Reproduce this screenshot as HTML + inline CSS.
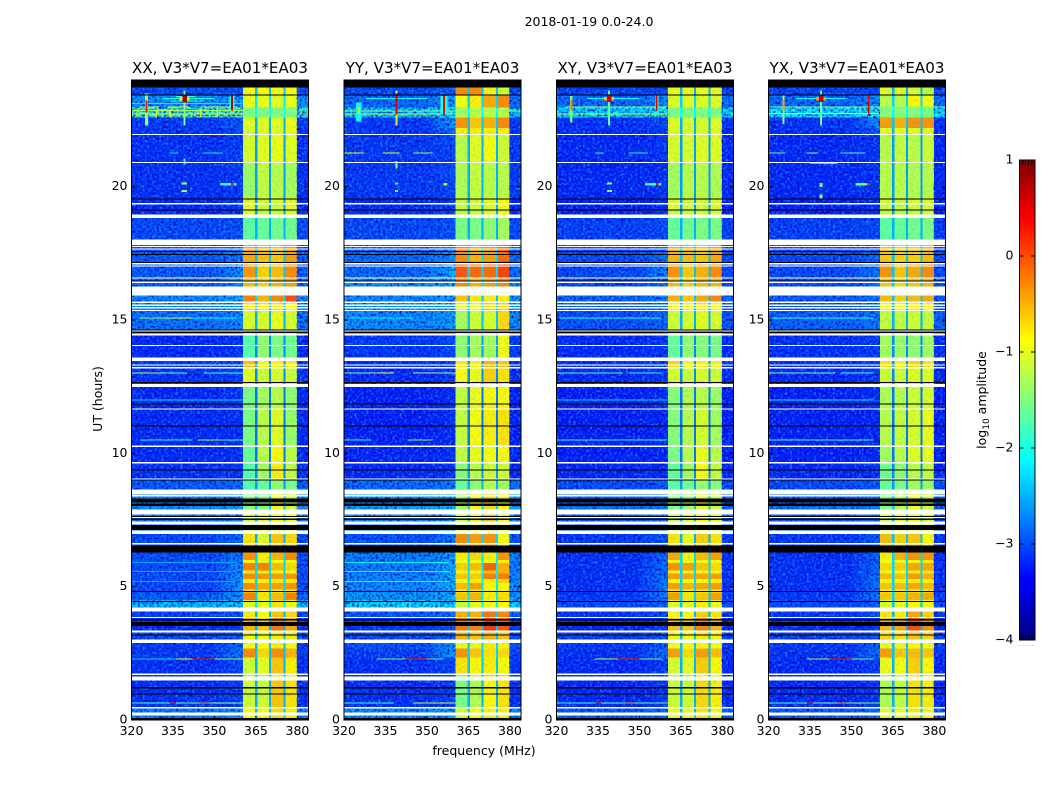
<!DOCTYPE html>
<html lang="en">
<head>
<meta charset="utf-8">
<title>2018-01-19 0.0-24.0</title>
<style>
html,body{margin:0;padding:0;background:#fff;width:1050px;height:800px;overflow:hidden}
svg{display:block}
text{font-family:"DejaVu Sans","Liberation Sans",sans-serif;fill:#000}
</style>
</head>
<body>
<svg id="chart" width="1050" height="800" viewBox="0 0 1050 800" xmlns="http://www.w3.org/2000/svg">
  <defs>
    <filter id="speckle-light" x="0" y="0" width="1" height="1" color-interpolation-filters="sRGB">
      <feTurbulence type="fractalNoise" baseFrequency="0.42" numOctaves="1" seed="4"/>
      <feColorMatrix values="0 0 0 0 0.1  0 0 0 0 0.55  0 0 0 0 1  2.6 0 0 0 -1.15"/>
    </filter>
    <filter id="speckle-dark" x="0" y="0" width="1" height="1" color-interpolation-filters="sRGB">
      <feTurbulence type="fractalNoise" baseFrequency="0.42" numOctaves="1" seed="11"/>
      <feColorMatrix values="0 0 0 0 0  0 0 0 0 0  0 0 0 0 0.75  2.6 0 0 0 -1.15"/>
    </filter>
    <linearGradient id="near-fade-ramp" x1="0" y1="0" x2="1" y2="0">
      <stop offset="0" stop-color="#000"/>
      <stop offset="1" stop-color="#fff"/>
    </linearGradient>
  </defs>
  <rect width="1050" height="800" fill="#fff"/>
  <text x="589" y="26" font-size="12.5" text-anchor="middle">2018-01-19 0.0-24.0</text>
  <text x="484" y="755" font-size="12.5" text-anchor="middle">frequency (MHz)</text>
  <text x="0" y="0" font-size="12.5" text-anchor="middle" transform="translate(102 399) rotate(-90)">UT (hours)</text>
  <text x="0" y="0" font-size="12.5" text-anchor="middle" transform="translate(986 400) rotate(-90)">log<tspan font-size="9" dy="3">10</tspan><tspan dy="-3"> amplitude</tspan></text>
  <g id="panels"></g>
  <g id="colorbar"></g>
</svg>
<script>
// ---------- data ----------
const panelTitles = ["XX, V3*V7=EA01*EA03", "YY, V3*V7=EA01*EA03", "XY, V3*V7=EA01*EA03", "YX, V3*V7=EA01*EA03"];
const xTicks = [320, 335, 350, 365, 380];
const yTicks = [0, 5, 10, 15, 20];
const colorTicks = [1, 0, -1, -2, -3, -4];
const colorTickLabels = ["1", "0", "\u22121", "\u22122", "\u22123", "\u22124"];

// frequency channel edges (MHz) and which value column each channel uses
const channelEdges = [320, 349, 360.3, 364.65, 365.5, 369.7, 370.5, 374.9, 375.6, 379.8, 384];
const channelColumn = [0, 1, 2, 6, 3, 6, 4, 6, 5, 0];

// UT block edges (hours)
const timeEdges = [23.71,23.43,22.96,22.60,22.20,21.95,20.90,19.60,18.95,18.00,17.20,16.57,15.92,15.66,15.35,14.55,13.55,13.20,12.55,11.66,10.26,9.64,9.00,8.45,7.89,7.00,6.60,6.29,6.00,5.88,5.60,5.50,5.28,5.13,4.90,4.78,4.50,4.22,3.84,3.28,2.89,2.69,2.34,1.75,1.48,0.46,0.07,0];

// log10 amplitude per block: [background, near-band, band1, band2, band3, band4, gap]
const cellsXX = [[-3.0,-3.0,-0.9,-0.9,-0.9,-0.9,-2.4],[-2.6,-2.5,-0.95,-0.95,-1.0,-0.95,-2.2],[-1.8,-1.7,-1.5,-1.5,-1.5,-1.5,-1.9],[-3.1,-2.9,-1.0,-1.0,-1.0,-0.95,-2.5],[-3.12,-2.95,-1.05,-1.0,-1.0,-0.95,-2.5],[-3.15,-3.05,-1.05,-1.0,-0.95,-1.0,-2.6],[-3.15,-3.1,-1.35,-1.15,-1.2,-1.3,-2.6],[-3.2,-3.1,-1.0,-1.1,-1.1,-1.0,-2.6],[-3.0,-2.95,-1.65,-1.6,-1.55,-1.55,-2.5],[-2.9,-2.7,-0.45,-0.55,-0.6,-0.4,-2.4],[-2.9,-2.6,-0.35,-0.65,-0.55,-0.3,-2.4],[-2.9,-2.6,-0.55,-0.65,-0.5,-0.4,-2.4],[-2.6,-2.4,-0.25,-0.5,-0.3,0.0,-2.3],[-2.6,-2.5,-0.8,-0.8,-0.75,-0.9,-2.4],[-2.75,-2.6,-1.05,-1.05,-0.95,-1.05,-2.5],[-3.2,-3.1,-1.7,-1.4,-1.5,-1.55,-2.7],[-3.1,-3.0,-0.55,-0.9,-0.85,-0.85,-2.6],[-3.15,-3.05,-1.0,-1.1,-1.05,-1.1,-2.7],[-3.2,-3.1,-1.5,-1.3,-1.2,-1.4,-2.8],[-3.2,-3.15,-1.5,-1.2,-1.0,-1.35,-2.8],[-3.2,-3.15,-1.6,-1.2,-0.85,-1.2,-2.8],[-3.15,-3.1,-1.7,-1.3,-0.8,-1.15,-2.7],[-2.9,-2.8,-1.7,-1.6,-1.4,-1.5,-2.6],[-2.6,-2.5,-1.4,-1.4,-0.9,-1.1,-2.4],[-2.7,-2.6,-1.1,-1.0,-0.85,-1.0,-2.4],[-3.0,-2.8,-0.75,-1.0,-0.6,-0.7,-2.5],[-3.02,-2.8,-0.7,-1.0,-0.65,-0.7,-2.5],[-3.0,-2.7,-0.35,-0.8,-0.5,-0.3,-2.3],[-3.0,-2.6,-0.85,-0.95,-0.9,-0.9,-2.3],[-3.0,-2.6,-0.25,-0.25,-0.55,-0.7,-2.3],[-3.0,-2.6,-0.9,-0.9,-0.9,-0.9,-2.3],[-3.0,-2.55,-0.3,-0.35,-0.4,-0.35,-2.3],[-3.0,-2.55,-0.8,-0.85,-0.8,-0.8,-2.3],[-3.0,-2.5,-0.3,-0.45,-0.4,-0.35,-2.3],[-3.0,-2.5,-0.8,-0.85,-0.85,-0.8,-2.3],[-2.9,-2.5,-0.25,-0.75,-0.55,-0.25,-2.3],[-2.35,-2.3,-1.0,-0.95,-0.75,-0.95,-2.2],[-3.05,-2.9,-0.8,-0.9,-0.6,-0.7,-2.5],[-3.2,-3.1,-0.5,-0.6,-0.2,-0.45,-2.5],[-3.0,-2.9,-0.85,-0.9,-0.8,-0.8,-2.4],[-3.1,-2.8,-0.9,-0.9,-0.8,-0.9,-2.4],[-3.1,-2.7,-0.3,-0.7,-0.3,-0.5,-2.4],[-3.15,-3.0,-1.1,-1.0,-0.6,-0.8,-2.5],[-3.1,-3.0,-1.2,-1.2,-0.8,-0.9,-2.5],[-3.15,-3.05,-1.1,-1.1,-0.6,-0.75,-2.5],[-2.7,-2.6,-0.9,-0.9,-0.7,-0.8,-2.4],[-2.5,-2.5,-0.7,-0.7,-0.6,-0.7,-2.4]];
const cellsYY = [[-3.0,-2.9,-0.3,-0.3,-0.8,-1.1,-2.4],[-2.8,-2.5,-0.9,-0.8,-0.45,-0.3,-2.3],[-2.3,-2.1,-1.3,-1.2,-1.2,-1.2,-2.1],[-3.1,-2.5,-0.35,-0.6,-0.5,-0.3,-2.4],[-3.1,-2.8,-0.8,-0.8,-0.8,-0.8,-2.4],[-3.1,-3.0,-1.2,-1.0,-0.9,-1.1,-2.5],[-3.1,-3.0,-1.25,-1.15,-1.2,-1.2,-2.5],[-3.2,-3.05,-1.15,-1.1,-1.0,-0.9,-2.5],[-3.0,-2.95,-1.5,-1.5,-1.4,-1.3,-2.5],[-2.8,-2.6,-0.3,-0.5,-0.4,-0.15,-2.3],[-2.8,-2.4,-0.05,-0.15,-0.15,0.05,-2.3],[-2.6,-2.4,-0.3,-0.5,-0.4,-0.3,-2.3],[-2.6,-2.5,-0.6,-0.8,-0.8,-0.85,-2.4],[-2.5,-2.4,-1.0,-1.0,-0.7,-0.65,-2.3],[-2.6,-2.5,-1.3,-1.1,-1.05,-0.7,-2.4],[-3.1,-3.0,-1.4,-1.3,-1.3,-0.95,-2.6],[-3.15,-3.05,-0.8,-0.85,-0.55,-0.6,-2.6],[-3.2,-3.1,-0.9,-0.95,-0.65,-0.75,-2.7],[-3.25,-3.15,-1.15,-0.95,-0.85,-0.85,-2.8],[-3.25,-3.15,-1.15,-0.9,-0.8,-0.75,-2.8],[-3.22,-3.15,-1.15,-0.95,-0.9,-0.85,-2.8],[-3.2,-3.1,-1.45,-1.2,-1.1,-1.1,-2.6],[-2.8,-2.7,-1.6,-1.4,-1.2,-1.3,-2.5],[-2.5,-2.4,-1.3,-0.9,-0.7,-0.9,-2.3],[-2.6,-2.5,-1.1,-0.8,-0.6,-0.9,-2.3],[-2.95,-2.7,-0.3,-0.4,-0.35,-0.9,-2.3],[-2.97,-2.7,-0.3,-0.4,-0.35,-0.88,-2.3],[-2.7,-2.5,-0.8,-0.7,-0.8,-0.35,-2.2],[-2.7,-2.5,-0.9,-0.9,-0.9,-0.8,-2.2],[-2.7,-2.4,-0.65,-0.55,-0.1,-0.5,-2.2],[-2.7,-2.4,-0.9,-0.9,-0.6,-0.5,-2.2],[-2.65,-2.4,-0.6,-0.65,-0.25,-0.25,-2.2],[-2.65,-2.4,-0.85,-0.8,-0.8,-0.7,-2.2],[-2.6,-2.4,-0.55,-0.4,-0.85,-0.85,-2.2],[-2.6,-2.4,-0.85,-0.85,-0.85,-0.85,-2.2],[-2.55,-2.4,-0.6,-0.5,-0.8,-0.7,-2.2],[-2.2,-2.2,-1.1,-0.95,-0.9,-0.85,-2.1],[-2.9,-2.8,-0.5,-0.5,-0.2,-0.3,-2.4],[-3.1,-3.0,-0.2,-0.25,0.1,-0.05,-2.4],[-3.0,-2.9,-0.5,-0.6,-0.5,-0.6,-2.4],[-2.95,-2.5,-0.95,-0.95,-0.8,-0.85,-2.3],[-3.05,-2.5,-0.35,-0.6,-0.75,-0.7,-2.3],[-3.15,-3.0,-0.75,-0.85,-0.8,-0.9,-2.4],[-3.1,-3.0,-1.5,-1.2,-0.7,-0.7,-2.5],[-3.15,-3.05,-1.5,-1.25,-0.85,-0.75,-2.5],[-2.6,-2.5,-1.1,-0.9,-0.8,-0.8,-2.3],[-2.6,-2.5,-0.7,-0.6,-0.5,-0.6,-2.3]];
const cellsXY = [[-3.05,-3.0,-0.95,-0.95,-0.95,-1.0,-2.5],[-2.8,-2.6,-1.0,-1.0,-1.0,-1.0,-2.3],[-2.2,-2.0,-1.5,-1.5,-1.5,-1.5,-2.0],[-3.15,-3.0,-1.0,-1.05,-1.05,-1.0,-2.5],[-3.17,-3.02,-1.02,-1.05,-1.05,-1.0,-2.5],[-3.2,-3.1,-1.05,-1.05,-1.0,-1.0,-2.6],[-3.2,-3.15,-1.3,-1.2,-1.2,-1.25,-2.6],[-3.25,-3.15,-1.05,-1.1,-1.1,-1.05,-2.6],[-3.05,-3.0,-1.6,-1.55,-1.5,-1.5,-2.5],[-3.0,-2.75,-0.5,-0.55,-0.6,-0.45,-2.4],[-3.0,-2.65,-0.35,-0.6,-0.5,-0.3,-2.4],[-3.0,-2.7,-0.55,-0.65,-0.55,-0.5,-2.4],[-2.85,-2.6,-0.5,-0.6,-0.45,-0.3,-2.4],[-2.9,-2.7,-0.85,-0.85,-0.8,-0.9,-2.5],[-2.95,-2.8,-1.1,-1.05,-1.0,-1.05,-2.5],[-3.2,-3.1,-1.6,-1.4,-1.45,-1.5,-2.7],[-3.15,-3.05,-0.7,-0.9,-0.85,-0.85,-2.6],[-3.2,-3.1,-1.05,-1.1,-1.05,-1.1,-2.7],[-3.25,-3.15,-1.45,-1.25,-1.2,-1.35,-2.8],[-3.25,-3.2,-1.45,-1.2,-1.05,-1.3,-2.8],[-3.25,-3.2,-1.5,-1.2,-0.95,-1.2,-2.8],[-3.2,-3.15,-1.6,-1.3,-0.9,-1.15,-2.7],[-3.0,-2.9,-1.65,-1.55,-1.35,-1.45,-2.6],[-2.8,-2.7,-1.4,-1.3,-0.95,-1.1,-2.4],[-2.85,-2.75,-1.1,-1.0,-0.85,-1.0,-2.4],[-3.1,-2.9,-0.75,-0.95,-0.65,-0.75,-2.5],[-3.12,-2.9,-0.7,-0.95,-0.65,-0.75,-2.5],[-3.15,-2.8,-0.45,-0.8,-0.55,-0.4,-2.3],[-3.15,-2.8,-0.85,-0.95,-0.9,-0.9,-2.3],[-3.15,-2.75,-0.35,-0.4,-0.6,-0.7,-2.3],[-3.15,-2.75,-0.9,-0.9,-0.9,-0.9,-2.3],[-3.15,-2.7,-0.4,-0.45,-0.45,-0.4,-2.3],[-3.15,-2.7,-0.85,-0.85,-0.85,-0.8,-2.3],[-3.15,-2.65,-0.4,-0.5,-0.45,-0.4,-2.3],[-3.15,-2.65,-0.85,-0.85,-0.85,-0.85,-2.3],[-3.1,-2.65,-0.4,-0.75,-0.6,-0.4,-2.3],[-3.0,-2.8,-1.0,-0.95,-0.8,-0.95,-2.4],[-3.1,-2.95,-0.85,-0.9,-0.65,-0.75,-2.5],[-3.2,-3.1,-0.55,-0.6,-0.25,-0.5,-2.5],[-3.05,-2.95,-0.85,-0.9,-0.8,-0.85,-2.4],[-3.1,-2.85,-0.9,-0.9,-0.85,-0.9,-2.4],[-3.15,-2.75,-0.4,-0.7,-0.4,-0.55,-2.4],[-3.2,-3.05,-1.05,-1.0,-0.65,-0.85,-2.5],[-3.15,-3.05,-1.2,-1.2,-0.85,-0.95,-2.5],[-3.2,-3.1,-1.1,-1.1,-0.7,-0.8,-2.5],[-2.9,-2.8,-0.95,-0.95,-0.75,-0.85,-2.4],[-2.8,-2.7,-0.7,-0.7,-0.6,-0.7,-2.4]];
const cellsYX = [[-3.05,-3.0,-1.0,-1.0,-1.05,-1.2,-2.5],[-2.8,-2.6,-1.2,-1.2,-0.85,-0.9,-2.3],[-2.1,-1.9,-1.45,-1.45,-1.45,-1.5,-2.0],[-3.15,-2.6,-0.4,-0.5,-0.35,-0.35,-2.4],[-3.15,-2.9,-1.0,-1.0,-1.0,-1.0,-2.5],[-3.2,-3.1,-1.2,-1.15,-1.2,-1.1,-2.6],[-3.2,-3.15,-1.2,-1.2,-1.25,-1.2,-2.6],[-3.25,-3.15,-1.1,-1.15,-1.1,-1.05,-2.6],[-3.05,-3.0,-1.65,-1.6,-1.55,-1.5,-2.5],[-3.0,-2.8,-0.6,-0.65,-0.65,-0.55,-2.4],[-3.0,-2.7,-0.35,-0.6,-0.45,-0.3,-2.4],[-3.0,-2.75,-0.6,-0.7,-0.6,-0.5,-2.4],[-2.9,-2.7,-0.55,-0.65,-0.55,-0.45,-2.4],[-2.95,-2.8,-0.95,-0.95,-0.8,-0.85,-2.5],[-2.85,-2.7,-1.15,-1.15,-1.1,-1.15,-2.5],[-3.15,-3.05,-1.3,-1.35,-1.4,-1.3,-2.7],[-3.15,-3.05,-0.75,-0.85,-0.7,-0.8,-2.6],[-3.2,-3.1,-1.1,-1.1,-1.0,-1.0,-2.7],[-3.25,-3.15,-1.25,-1.2,-1.1,-1.05,-2.8],[-3.25,-3.2,-1.2,-1.15,-1.05,-0.95,-2.8],[-3.25,-3.2,-1.3,-1.2,-1.0,-0.95,-2.8],[-3.2,-3.15,-1.55,-1.4,-1.2,-1.15,-2.7],[-3.0,-2.9,-1.6,-1.5,-1.3,-1.35,-2.6],[-2.8,-2.7,-1.4,-1.2,-0.9,-1.1,-2.4],[-2.9,-2.75,-1.1,-0.95,-0.85,-1.0,-2.4],[-3.1,-2.9,-0.55,-0.65,-0.6,-0.85,-2.4],[-3.12,-2.9,-0.55,-0.65,-0.6,-0.83,-2.4],[-3.15,-2.85,-0.8,-0.5,-0.35,-0.35,-2.3],[-3.15,-2.85,-0.9,-0.9,-0.85,-0.8,-2.3],[-3.15,-2.8,-0.7,-0.65,-0.45,-0.45,-2.3],[-3.15,-2.8,-0.9,-0.9,-0.8,-0.8,-2.3],[-3.15,-2.75,-0.55,-0.6,-0.4,-0.5,-2.3],[-3.15,-2.75,-0.85,-0.85,-0.8,-0.8,-2.3],[-3.15,-2.7,-0.6,-0.55,-0.45,-0.55,-2.3],[-3.15,-2.7,-0.85,-0.85,-0.85,-0.85,-2.3],[-3.1,-2.7,-0.6,-0.6,-0.5,-0.45,-2.3],[-3.0,-2.85,-1.0,-0.95,-0.85,-0.9,-2.4],[-3.1,-2.95,-0.75,-0.8,-0.45,-0.7,-2.5],[-3.2,-3.1,-0.55,-0.45,0.0,-0.3,-2.5],[-3.05,-2.95,-0.7,-0.75,-0.6,-0.7,-2.4],[-3.1,-2.85,-0.95,-0.95,-0.85,-0.9,-2.4],[-3.15,-2.75,-0.4,-0.6,-0.55,-0.6,-2.4],[-3.2,-3.05,-0.95,-0.9,-0.65,-0.85,-2.5],[-3.15,-3.05,-1.3,-1.15,-0.85,-0.9,-2.5],[-3.2,-3.1,-1.25,-1.15,-0.75,-0.8,-2.5],[-2.9,-2.8,-1.0,-0.95,-0.8,-0.85,-2.4],[-2.8,-2.7,-0.7,-0.65,-0.6,-0.65,-2.4]];
const panelCells = [cellsXX, cellsYY, cellsXY, cellsYX];

// interference lines: [hour, startMHz, endMHz, level]
const linesXX = [[23.38,336,343,-1.9],[23.3,331,350,-2.0],[23.22,334,346,-2.1],[23.12,320,360,-2.2],[22.98,323,330,-1.2],[22.98,333,341,-1.0],[22.98,345,358,-1.3],[22.86,320,360.3,-1.35],[22.72,320,360.3,-1.15],[21.26,334,337,-2.2],[21.26,346,353,-2.2],[15.07,323,333,-1.4],[15.07,333,342,-1.1],[15.07,342,358,-2.1],[13.01,320,330,-1.3],[13.01,330,340,-1.6],[13.01,346,360.3,-1.8],[12.0,320,360.3,-2.3],[10.5,323,342,-2.0],[10.5,344,352,-1.4],[10.5,352,360.3,-1.8],[5.9,320,358,-2.55],[5.57,320,358,-2.55],[5.19,320,358,-2.55],[2.29,336,342,-1.0],[2.29,342,350,0.3],[2.29,350,360.3,-1.4],[2.29,320,336,-2.3],[0.64,320,334,-1.7],[0.64,334,336,0.2],[0.64,336,345,-1.6],[0.64,345,348,-0.3],[0.64,348,360.3,-1.5]];
const linesYY = [[23.3,328,350,-2.1],[22.84,320,384,-1.5],[22.72,320,360,-1.2],[21.27,320,327,-1.0],[21.27,334,340,-1.0],[21.27,345,352,-1.4],[15.07,322,345,-2.2],[13.01,320,332,-1.5],[13.01,332,338,-0.9],[13.01,345,360.3,-1.3],[10.5,320,330,-2.0],[10.5,343,352,-1.5],[5.9,320,358,-2.15],[5.57,320,358,-2.15],[5.19,320,358,-2.15],[4.44,320,358,-1.8],[2.29,332,342,-1.6],[2.29,342,350,0.2],[2.29,350,356,-1.8],[0.64,320,338,-1.8],[0.64,345,360.3,-1.2]];
const linesXY = [[23.3,331,350,-2.1],[22.98,323,360,-1.4],[22.72,320,360,-1.3],[21.26,334,337,-1.9],[21.26,346,353,-2.0],[15.07,321,358,-1.9],[13.01,320,344,-1.7],[13.01,346,358,-1.9],[12.0,320,360,-2.3],[10.5,320,360,-1.9],[2.29,334,342,-1.2],[2.29,342,350,0.25],[2.29,350,358,-1.6],[0.64,320,334,-1.8],[0.64,334,336,0.2],[0.64,336,345,-1.7],[0.64,345,348,-0.3],[0.64,348,360.3,-1.6]];
const linesYX = [[23.3,330,348,-2.1],[22.98,320,384,-1.5],[22.75,320,360,-1.1],[21.27,320,326,-1.6],[21.27,334,338,-1.5],[21.27,346,355,-1.8],[20.86,335,345,-0.4],[15.07,321,358,-1.9],[13.01,320,344,-1.5],[13.01,346,358,-1.7],[12.0,320,358,-2.2],[10.5,320,358,-1.8],[8.55,320,345,-1.5],[2.29,334,342,-1.3],[2.29,342,350,0.25],[2.29,350,358,-1.7],[0.64,320,334,-1.7],[0.64,334,336,0.25],[0.64,336,345,-1.6],[0.64,345,348,-0.2],[0.64,348,360.3,-1.5]];
const panelLines = [linesXX, linesYY, linesXY, linesYX];

// interference spots: [centreMHz, centreHour, widthMHz, heightHours, level]
const spotsXX = [[339.2,22.95,0.8,1.3,-1.5],[339.2,23.3,3.6,0.12,-0.8],[339.2,23.3,1.6,0.28,0.8],[325.4,22.9,1.0,1.2,-1.4],[325.4,23.0,0.7,0.45,0.3],[356.3,23.15,1.8,0.55,-2.0],[356.3,23.15,0.7,0.6,0.7],[322,22.75,0.5,0.3,-1.1],[329,22.75,0.5,0.3,-1.1],[334,22.75,0.5,0.3,-1.0],[345,22.75,0.5,0.3,-1.0],[351,22.75,0.5,0.3,-1.1],[339.1,20.95,0.7,0.22,-1.9],[339.1,20.12,2,0.08,-1.4],[339.1,19.84,2,0.08,-1.4],[355,20.09,6,0.08,-1.9],[356.4,20.09,0.8,0.08,0.4]];
const spotsYY = [[339,22.95,0.7,1.3,-1.2],[339,23.1,0.6,0.8,0.5],[325.4,22.8,2.0,0.7,-2.1],[325.4,22.85,0.7,0.2,-0.8],[356.2,23.05,2.6,0.7,-2.0],[356.2,23.05,0.7,0.7,0.4],[339,20.82,0.6,0.28,-1.4],[339,20.12,1,0.08,-1.7],[339,19.84,1,0.08,-1.7],[356.6,20.09,1.4,0.08,-1.2]];
const spotsXY = [[339,22.95,0.8,1.3,-1.7],[339,23.3,3.6,0.12,-0.6],[339,23.3,1.6,0.26,0.6],[325.4,22.9,0.9,1.0,-1.6],[325.4,23.05,0.6,0.4,-0.2],[356.3,23.15,1.0,0.6,-1.7],[356.3,23.15,0.6,0.6,0.5],[339.1,20.12,1.8,0.08,-1.5],[339.1,19.84,1.8,0.08,-1.5],[355,20.09,6,0.08,-1.9],[356.4,20.09,0.8,0.08,0.4]];
const spotsYX = [[339,22.95,0.8,1.3,-1.6],[339,23.3,3.6,0.12,-0.4],[339,23.3,1.6,0.26,0.7],[325.4,22.9,0.8,1.1,-1.5],[325.4,23.05,0.6,0.4,-0.4],[356.3,23.1,0.6,0.8,0.5],[339,20.06,1.2,0.16,-1.6],[339,19.62,1.2,0.16,-1.6],[354,20.09,5,0.08,-1.7],[356.2,20.09,1,0.08,0.2]];
const panelSpots = [spotsXX, spotsYY, spotsXY, spotsYX];

// time ranges with no data [fromHour, toHour], drawn white
const blankRanges = [[21.93,21.98],[20.88,20.93],[19.34,19.39],[18.83,18.95],[17.82,18.02],[17.73,17.78],[17.64,17.69],[17.08,17.13],[17.0,17.05],[16.55,16.6],[16.39,16.44],[15.92,16.25],[15.64,15.69],[15.53,15.58],[15.43,15.48],[15.33,15.38],[14.55,14.6],[14.41,14.49],[14.02,14.07],[13.47,13.59],[13.29,13.34],[13.18,13.23],[12.55,12.6],[12.49,12.54],[11.64,11.69],[10.24,10.29],[9.62,9.67],[9.01,9.06],[8.45,8.64],[8.38,8.43],[7.70,7.89],[7.58,7.63],[7.33,7.45],[6.98,7.10],[6.58,6.63],[4.07,4.22],[3.82,3.87],[3.28,3.35],[2.89,3.02],[1.69,1.74],[1.48,1.63],[0.44,0.49],[0.16,0.28]];
// time ranges flagged to zero [fromHour, toHour], drawn black
const zeroRanges = [[23.71,24],[23.41,23.45],[19.51,19.55],[19.10,19.14],[17.55,17.59],[17.43,17.47],[17.14,17.18],[16.45,16.49],[14.61,14.65],[14.52,14.56],[12.64,12.68],[11.83,11.87],[11.01,11.05],[9.36,9.40],[8.98,9.02],[8.15,8.30],[8.03,8.11],[7.61,7.65],[7.50,7.55],[7.13,7.32],[6.29,6.54],[4.80,4.84],[4.42,4.46],[3.74,3.78],[3.52,3.68],[3.17,3.21],[1.19,1.23],[0.96,1.00],[0,0.07]];

// ---------- scales and helpers ----------
const SVGNS = "http://www.w3.org/2000/svg";
const panelLeft = [131.5, 344, 556.5, 768.5];
const panelWidth = 177, plotTop = 80, plotBottom = 720;
const hourMax = 24, freqMin = 320, freqMax = 384;
const freqScale = (panelIndex, f) => panelLeft[panelIndex] + (f - freqMin) / (freqMax - freqMin) * panelWidth;
const hourScale = t => plotBottom - t / hourMax * (plotBottom - plotTop);
const cbarTop = 160, cbarBottom = 640, cbarLeft = 1019.5, cbarRight = 1035;
const levelScale = v => cbarBottom - (v + 4) / 5 * (cbarBottom - cbarTop);

function clamp01(x) { return Math.max(0, Math.min(1, x)); }
function jet(v) {
  const f = clamp01((v + 4) / 5);
  const r = clamp01(Math.min(4 * f - 1.5, -4 * f + 4.5));
  const g = clamp01(Math.min(4 * f - 0.5, -4 * f + 3.5));
  const b = clamp01(Math.min(4 * f + 0.5, -4 * f + 2.5));
  return "rgb(" + Math.round(r * 255) + "," + Math.round(g * 255) + "," + Math.round(b * 255) + ")";
}
function rect(parent, x, y, w, h, fill) {
  const el = document.createElementNS(SVGNS, "rect");
  el.setAttribute("x", x.toFixed(2));
  el.setAttribute("y", y.toFixed(2));
  el.setAttribute("width", Math.max(w, 0.5).toFixed(2));
  el.setAttribute("height", Math.max(h, 1).toFixed(2));
  el.setAttribute("fill", fill);
  parent.appendChild(el);
  return el;
}
function line(parent, x1, y1, x2, y2) {
  const el = document.createElementNS(SVGNS, "line");
  el.setAttribute("x1", x1);
  el.setAttribute("y1", y1);
  el.setAttribute("x2", x2);
  el.setAttribute("y2", y2);
  el.setAttribute("stroke", "#000");
  el.setAttribute("stroke-width", "1");
  parent.appendChild(el);
  return el;
}
function label(parent, x, y, str, size, anchor) {
  const el = document.createElementNS(SVGNS, "text");
  el.setAttribute("x", x);
  el.setAttribute("y", y);
  el.setAttribute("font-size", size);
  el.setAttribute("text-anchor", anchor);
  el.textContent = str;
  parent.appendChild(el);
  return el;
}

// ---------- panels ----------
const root = document.getElementById("panels");
const defs = document.querySelector("#chart defs");
panelTitles.forEach((title, p) => {
  const g = document.createElementNS(SVGNS, "g");
  g.setAttribute("shape-rendering", "crispEdges");
  
  
  root.appendChild(g);

  // soft fade of the near-band column into the background
  const nearX0 = freqScale(p, channelEdges[1]), nearX1 = freqScale(p, channelEdges[2]);
  const fadeMask = document.createElementNS(SVGNS, "mask");
  fadeMask.setAttribute("id", "near-fade-" + p);
  fadeMask.setAttribute("maskUnits", "userSpaceOnUse");
  fadeMask.setAttribute("x", nearX0);
  fadeMask.setAttribute("y", plotTop);
  fadeMask.setAttribute("width", nearX1 - nearX0);
  fadeMask.setAttribute("height", plotBottom - plotTop);
  rect(fadeMask, nearX0, plotTop, nearX1 - nearX0, plotBottom - plotTop, "url(#near-fade-ramp)");
  defs.appendChild(fadeMask);
  const nearGroup = document.createElementNS(SVGNS, "g");
  nearGroup.setAttribute("mask", "url(#near-fade-" + p + ")");
  
  

  // heatmap blocks
  panelCells[p].forEach((row, r) => {
    const y0 = hourScale(timeEdges[r]), y1 = hourScale(timeEdges[r + 1]);
    channelColumn.forEach((col, c) => {
      const x0 = freqScale(p, channelEdges[c]), x1 = freqScale(p, channelEdges[c + 1]);
      const isNear = col === 1;
      const cell = rect(g, x0, y0, x1 - x0, y1 - y0 + 0.5, jet(isNear ? row[0] : row[col]));
      
      
      if (isNear) {
        const fade = rect(nearGroup, x0, y0, x1 - x0, y1 - y0 + 0.5, jet(row[1]));
        
        
      }
    });
  });
  g.appendChild(nearGroup);

  // mottled texture: full strength on the background, a faint light grain on the bands
  const speckleSpans = [[channelEdges[0], channelEdges[2], "speckle-light", 1], [channelEdges[0], channelEdges[2], "speckle-dark", 1], [channelEdges[9], channelEdges[10], "speckle-light", 1], [channelEdges[9], channelEdges[10], "speckle-dark", 1], [channelEdges[2], channelEdges[9], "speckle-light", 0.22]];
  speckleSpans.forEach(span => {
    const x0 = freqScale(p, span[0]), x1 = freqScale(p, span[1]);
    const tex = rect(g, x0, plotTop, x1 - x0, plotBottom - plotTop, "#000");
    tex.setAttribute("filter", "url(#" + span[2] + ")");
    tex.setAttribute("opacity", span[3]);
    
    
  });

  // interference lines
  panelLines[p].forEach(d => {
    const x0 = freqScale(p, d[1]), x1 = freqScale(p, d[2]);
    const mark = rect(g, x0, hourScale(d[0]) - 0.5, x1 - x0, 1, jet(d[3]));
    
    
  });

  // interference spots
  panelSpots[p].forEach(d => {
    const x0 = freqScale(p, d[0] - d[2] / 2), x1 = freqScale(p, d[0] + d[2] / 2);
    const y0 = hourScale(d[1] + d[3] / 2), y1 = hourScale(d[1] - d[3] / 2);
    const mark = rect(g, x0, y0, x1 - x0, y1 - y0, jet(d[4]));
    
    
  });

  // blank and flagged time ranges
  blankRanges.forEach(d => {
    const y0 = hourScale(d[1]), y1 = hourScale(d[0]);
    const mark = rect(g, panelLeft[p], y0, panelWidth, y1 - y0, "#fff");
    
    
  });
  zeroRanges.forEach(d => {
    const y0 = hourScale(d[1]), y1 = hourScale(d[0]);
    const mark = rect(g, panelLeft[p], y0, panelWidth, y1 - y0, "#000");
    
    
  });

  // frame, ticks, labels
  const axisGroup = document.createElementNS(SVGNS, "g");
  
  
  root.appendChild(axisGroup);

  const frame = document.createElementNS(SVGNS, "rect");
  frame.setAttribute("x", panelLeft[p]);
  frame.setAttribute("y", plotTop);
  frame.setAttribute("width", panelWidth);
  frame.setAttribute("height", plotBottom - plotTop);
  frame.setAttribute("fill", "none");
  frame.setAttribute("stroke", "#000");
  frame.setAttribute("stroke-width", "1");
  
  
  axisGroup.appendChild(frame);

  xTicks.forEach(v => {
    const x = freqScale(p, v);
    const tickA = line(axisGroup, x, plotBottom, x, plotBottom - 4);
    
    
    const tx = label(axisGroup, x, 735, String(v), 12.5, "middle");
    
    
  });
  yTicks.forEach(v => {
    const y = hourScale(v);
    const tickA = line(axisGroup, panelLeft[p], y, panelLeft[p] + 4, y);
    
    
    const tickB = line(axisGroup, panelLeft[p] + panelWidth, y, panelLeft[p] + panelWidth - 4, y);
    
    
    const ty = label(axisGroup, panelLeft[p] - 4, y + 3.5, String(v), 12.5, "end");
    
    
  });
  const tt = label(axisGroup, panelLeft[p] + panelWidth / 2, 73, title, 15.1, "middle");
  
  
});

// ---------- colorbar ----------
const cb = document.getElementById("colorbar");
const cbRamp = document.createElementNS(SVGNS, "g");
cbRamp.setAttribute("shape-rendering", "crispEdges");


cb.appendChild(cbRamp);
for (let y = cbarTop; y < cbarBottom; y++) {
  const lvl = -4 + (cbarBottom - y - 0.5) / (cbarBottom - cbarTop) * 5;
  const strip = rect(cbRamp, cbarLeft, y, cbarRight - cbarLeft, 1, jet(lvl));
  
  
}
const cbFrame = document.createElementNS(SVGNS, "rect");
cbFrame.setAttribute("x", cbarLeft);
cbFrame.setAttribute("y", cbarTop);
cbFrame.setAttribute("width", cbarRight - cbarLeft);
cbFrame.setAttribute("height", cbarBottom - cbarTop);
cbFrame.setAttribute("fill", "none");
cbFrame.setAttribute("stroke", "#000");
cbFrame.setAttribute("stroke-width", "1");


cb.appendChild(cbFrame);
colorTicks.forEach((v, i) => {
  const y = levelScale(v);
  const tickA = line(cb, cbarLeft, y, cbarLeft + 4, y);
  
  
  const tickB = line(cb, cbarRight, y, cbarRight - 4, y);
  
  
  const tl = label(cb, cbarLeft - 6, y + 3.5, colorTickLabels[i], 12.5, "end");
  
  
});
const minorTickOffsets = [3.2, 6, 9, 12.3];
minorTickOffsets.forEach(dx => {
  const top = line(cb, cbarLeft + dx, cbarTop, cbarLeft + dx, cbarTop + 5);
  
  
  const bot = line(cb, cbarLeft + dx, cbarBottom, cbarLeft + dx, cbarBottom - 5);
  
  
});
const minorLabels = label(cb, 1017, 646, "......", 6, "start");
minorLabels.setAttribute("letter-spacing", "1");
minorLabels.setAttribute("style", "fill:#888");


</script>
</body>
</html>
